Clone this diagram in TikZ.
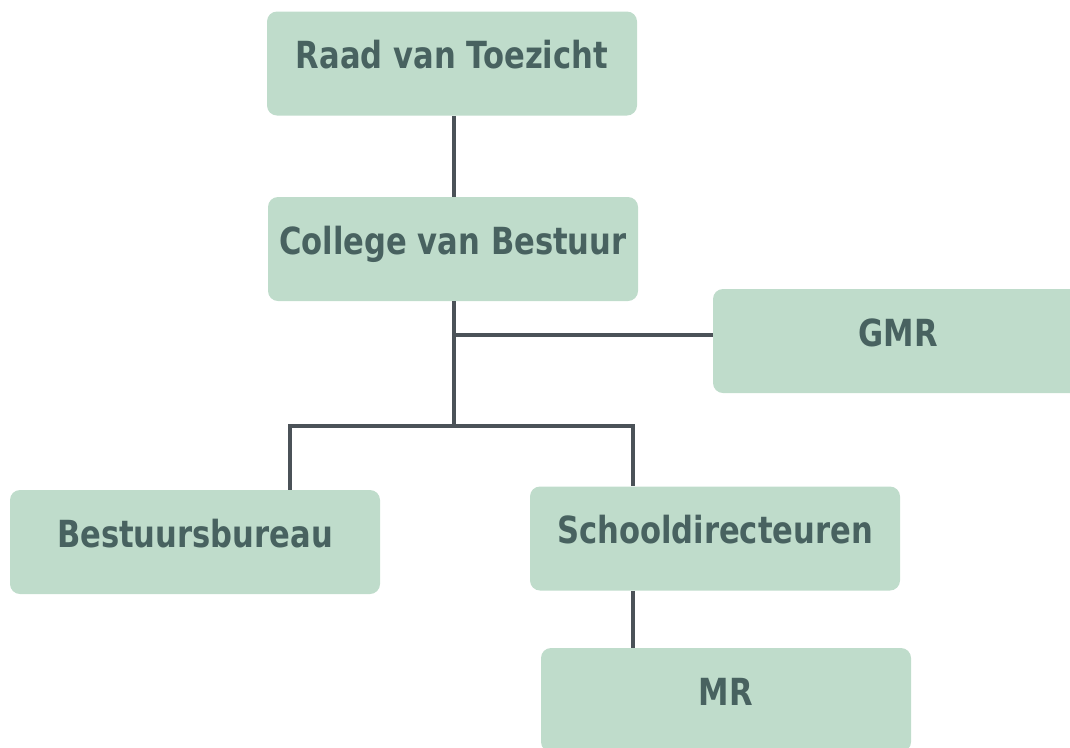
\documentclass[tikz,border=0pt]{standalone}
\usepackage{fontspec}
\setmainfont{DejaVu Sans}[FakeStretch=0.82]
\definecolor{boxfill}{RGB}{191,220,203}
\definecolor{boxtext}{RGB}{72,98,96}
\definecolor{linecol}{RGB}{75,82,88}
\tikzset{
  orgbox/.style={fill=boxfill, draw=none, rounded corners=7.5pt, inner sep=0pt,
    minimum width=277.5pt, minimum height=78pt, text height=14pt, text depth=6pt,
    text=boxtext, font=\fontsize{28}{30}\selectfont\bfseries},
  conn/.style={draw=linecol, line width=2.6pt}
}
\begin{document}
\begin{tikzpicture}[x=0.75pt,y=-0.75pt]
\useasboundingbox (0,0) rectangle (1070,747);
\begin{scope}
\clip (0,0) rectangle (1070,747);
\node[orgbox] (rvt) at (452,63.5) {Raad van Toezicht};
\node[orgbox] (cvb) at (453,249) {College van Bestuur};
\node[orgbox] (gmr) at (898,341) {GMR};
\node[orgbox] (bb) at (195,542) {Bestuursbureau};
\node[orgbox] (sd) at (715,538.5) {Schooldirecteuren};
\node[orgbox] (mr) at (726,700) {MR};
\end{scope}
\coordinate (j1) at (454,335);
\coordinate (j2) at (454,426);
\coordinate (jl) at (290,426);
\coordinate (jr) at (633,426);
\draw[conn] (j1 |- rvt.south) -- (j1 |- cvb.north);
\draw[conn] (j1 |- cvb.south) -- (j2);
\draw[conn] (j1) -- (gmr.west |- j1);
\draw[conn] (jl |- bb.north) -- (jl) -- (jr) -- (jr |- sd.north);
\draw[conn] (jr |- sd.south) -- (jr |- mr.north);
\end{tikzpicture}
\end{document}
